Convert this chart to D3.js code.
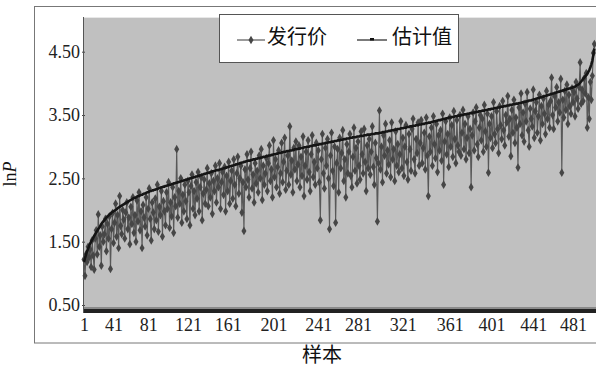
<!DOCTYPE html>
<html>
<head>
<meta charset="utf-8">
<script src="https://cdn.jsdelivr.net/npm/d3@7"></script>
<style>
  body { margin: 0; background: #fff; }
  text { font-family: "Liberation Serif", "DejaVu Serif", serif; }
  .cjk { font-family: "Noto Sans CJK SC", sans-serif; }
</style>
</head>
<body>
<svg id="chart" width="596" height="367"></svg>
<script>
// 发行价 (ln of issue price), one value per sample
const issuePrice = [
  1.22, 0.96, 1.30, 1.18, 1.42, 1.25, 1.38, 1.10, 1.52, 1.28,
  1.06, 1.55, 1.68, 1.30, 1.93, 1.42, 1.60, 1.12, 1.74, 1.50,
  1.62, 1.86, 1.35, 1.78, 1.55, 1.90, 1.07, 1.70, 1.95, 1.48,
  1.80, 2.10, 1.58, 1.92, 1.40, 2.22, 1.75, 1.62, 2.00, 1.85,
  1.55, 1.96, 2.12, 1.70, 1.88, 1.46, 2.05, 1.78, 2.20, 1.64,
  1.92, 1.50, 2.15, 1.82, 2.28, 1.68, 1.98, 1.40, 2.08, 1.88,
  1.74, 2.20, 1.60, 2.02, 2.34, 1.86, 1.52, 2.12, 1.96, 1.70,
  2.18, 1.84, 2.40, 1.66, 2.05, 1.92, 2.30, 1.58, 2.14, 1.98,
  1.76, 2.28, 2.02, 2.44, 1.72, 2.12, 1.90, 2.36, 1.64, 2.20,
  2.06, 2.96, 1.88, 2.30, 2.10, 2.50, 1.80, 2.24, 1.98, 2.40,
  2.14, 1.86, 2.46, 2.28, 1.76, 2.38, 2.56, 2.02, 2.30, 1.92,
  2.44, 2.18, 2.60, 1.98, 2.36, 2.52, 1.84, 2.26, 2.48, 2.10,
  2.32, 2.66, 2.06, 2.42, 2.20, 2.58, 1.94, 2.46, 2.30, 2.70,
  2.12, 2.50, 2.36, 2.74, 2.02, 2.44, 2.60, 2.24, 2.68, 1.98,
  2.54, 2.30, 2.76, 2.10, 2.46, 2.62, 2.18, 2.80, 2.40, 2.06,
  2.58, 2.84, 2.26, 2.50, 2.70, 1.96, 2.44, 1.67, 2.64, 2.36,
  2.88, 2.48, 2.20, 2.66, 2.92, 2.34, 2.56, 2.12, 2.74, 2.42,
  2.62, 2.28, 2.86, 2.50, 2.96, 2.16, 2.70, 2.40, 2.58, 2.82,
  2.30, 2.74, 3.02, 2.46, 2.64, 2.20, 3.10, 2.52, 2.80, 2.36,
  2.68, 2.94, 2.26, 2.58, 3.06, 2.44, 2.76, 3.14, 2.32, 2.62,
  2.86, 2.40, 3.32, 2.56, 2.78, 2.28, 2.98, 2.64, 3.08, 2.46,
  2.72, 3.02, 2.36, 2.84, 2.54, 3.16, 2.22, 2.70, 2.92, 2.48,
  3.10, 2.60, 2.30, 2.88, 3.18, 2.52, 2.76, 2.40, 3.06, 2.66,
  2.94, 2.44, 1.84, 2.80, 3.20, 2.58, 2.34, 2.98, 2.70, 3.12,
  2.50, 1.70, 2.86, 3.22, 2.62, 2.38, 3.00, 1.80, 2.74, 2.96,
  2.28, 3.14, 2.66, 2.90, 3.26, 2.46, 2.80, 2.20, 3.04, 2.58,
  2.92, 3.20, 2.54, 2.36, 2.84, 3.30, 2.62, 2.98, 2.42, 3.08,
  2.70, 2.48, 3.24, 2.88, 2.58, 3.28, 2.76, 2.30, 3.02, 2.66,
  3.12, 2.56, 2.92, 3.32, 2.68, 2.40, 3.06, 2.82, 1.82, 2.74,
  3.57, 2.64, 3.00, 2.44, 3.18, 2.86, 3.36, 2.58, 2.94, 2.72,
  3.10, 2.52, 3.38, 2.80, 2.96, 2.46, 3.24, 2.70, 3.04, 2.60,
  2.88, 3.40, 2.66, 3.14, 2.54, 3.00, 3.34, 2.76, 2.48, 3.20,
  2.96, 2.62, 3.28, 3.44, 2.80, 2.58, 3.12, 2.90, 3.38, 2.70,
  3.06, 3.42, 2.74, 2.98, 3.22, 2.64, 3.46, 2.86, 2.22, 3.16,
  2.92, 3.30, 2.70, 3.48, 3.04, 2.82, 3.36, 2.60, 3.18, 2.94,
  3.26, 2.78, 3.52, 2.40, 3.08, 3.40, 2.88, 3.20, 2.68, 3.46,
  3.00, 3.34, 2.84, 3.56, 3.12, 2.74, 3.42, 3.02, 2.92, 3.50,
  2.86, 3.22, 3.58, 2.96, 3.36, 2.80, 3.14, 3.48, 2.90, 3.28,
  2.36, 3.18, 3.54, 2.94, 3.40, 3.62, 3.04, 2.84, 3.30, 3.50,
  3.10, 3.44, 2.92, 3.66, 3.24, 3.00, 3.52, 2.59, 3.36, 3.14,
  3.48, 2.98, 3.70, 3.20, 3.06, 3.56, 3.28, 2.90, 3.64, 3.34,
  3.12, 3.72, 3.26, 3.02, 3.50, 3.38, 3.80, 3.16, 3.44, 2.85,
  3.58, 3.22, 3.74, 3.06, 3.46, 3.30, 2.67, 3.62, 3.36, 3.84,
  3.18, 3.54, 3.08, 3.68, 3.40, 3.86, 3.26, 3.00, 3.60, 3.44,
  3.32, 3.90, 3.14, 3.56, 3.70, 3.22, 3.48, 3.82, 3.10, 3.64,
  3.36, 3.76, 3.52, 3.20, 3.88, 3.44, 3.66, 3.30, 3.72, 4.09,
  3.50, 3.28, 3.80, 3.62, 3.94, 3.40, 3.70, 3.54, 4.07, 2.59,
  3.74, 3.46, 3.88, 3.58, 3.98, 3.36, 3.82, 3.64, 3.52, 3.92,
  3.70, 3.86, 3.48, 4.02, 3.76, 3.60, 3.94, 4.33, 3.68, 3.90,
  3.72, 4.08, 3.84, 4.16, 3.30, 3.78, 3.44, 4.02, 3.74, 4.12,
  4.48, 4.62
];

// 估计值 (fitted value), one value per sample
const estimate = [
  1.18, 1.24, 1.30, 1.35, 1.39, 1.43, 1.47, 1.50, 1.53, 1.56,
  1.59, 1.62, 1.65, 1.67, 1.70, 1.72, 1.75, 1.78, 1.80, 1.82,
  1.84, 1.86, 1.88, 1.90, 1.91, 1.93, 1.94, 1.96, 1.97, 1.98,
  1.99, 2.00, 2.01, 2.03, 2.04, 2.05, 2.06, 2.07, 2.08, 2.09,
  2.10, 2.11, 2.12, 2.13, 2.14, 2.15, 2.16, 2.17, 2.18, 2.19,
  2.19, 2.20, 2.21, 2.22, 2.22, 2.23, 2.24, 2.24, 2.25, 2.26,
  2.26, 2.27, 2.28, 2.28, 2.29, 2.30, 2.30, 2.31, 2.31, 2.32,
  2.32, 2.33, 2.33, 2.34, 2.35, 2.35, 2.36, 2.36, 2.37, 2.37,
  2.38, 2.38, 2.39, 2.39, 2.40, 2.40, 2.41, 2.41, 2.42, 2.42,
  2.43, 2.43, 2.44, 2.44, 2.45, 2.45, 2.46, 2.46, 2.47, 2.47,
  2.48, 2.48, 2.49, 2.49, 2.50, 2.50, 2.51, 2.51, 2.52, 2.52,
  2.53, 2.53, 2.54, 2.54, 2.55, 2.55, 2.56, 2.56, 2.57, 2.57,
  2.58, 2.58, 2.59, 2.59, 2.60, 2.60, 2.61, 2.61, 2.62, 2.62,
  2.63, 2.63, 2.63, 2.64, 2.64, 2.65, 2.65, 2.66, 2.66, 2.67,
  2.67, 2.68, 2.68, 2.69, 2.69, 2.70, 2.70, 2.71, 2.71, 2.72,
  2.72, 2.73, 2.73, 2.74, 2.74, 2.75, 2.75, 2.76, 2.76, 2.77,
  2.77, 2.78, 2.78, 2.78, 2.79, 2.79, 2.80, 2.80, 2.80, 2.81,
  2.81, 2.82, 2.82, 2.82, 2.83, 2.83, 2.84, 2.84, 2.84, 2.85,
  2.85, 2.86, 2.86, 2.86, 2.87, 2.87, 2.88, 2.88, 2.88, 2.89,
  2.89, 2.90, 2.90, 2.90, 2.91, 2.91, 2.92, 2.92, 2.92, 2.93,
  2.93, 2.93, 2.94, 2.94, 2.94, 2.95, 2.95, 2.96, 2.96, 2.96,
  2.97, 2.97, 2.97, 2.98, 2.98, 2.98, 2.99, 2.99, 2.99, 3.00,
  3.00, 3.00, 3.01, 3.01, 3.01, 3.02, 3.02, 3.02, 3.03, 3.03,
  3.03, 3.04, 3.04, 3.04, 3.05, 3.05, 3.05, 3.06, 3.06, 3.06,
  3.07, 3.07, 3.07, 3.08, 3.08, 3.08, 3.09, 3.09, 3.09, 3.10,
  3.10, 3.10, 3.11, 3.11, 3.11, 3.12, 3.12, 3.12, 3.13, 3.13,
  3.13, 3.14, 3.14, 3.14, 3.15, 3.15, 3.15, 3.15, 3.16, 3.16,
  3.16, 3.17, 3.17, 3.17, 3.17, 3.18, 3.18, 3.18, 3.19, 3.19,
  3.19, 3.19, 3.20, 3.20, 3.20, 3.20, 3.21, 3.21, 3.21, 3.21,
  3.22, 3.22, 3.22, 3.23, 3.23, 3.23, 3.24, 3.24, 3.24, 3.25,
  3.25, 3.25, 3.26, 3.26, 3.26, 3.27, 3.27, 3.27, 3.28, 3.28,
  3.28, 3.29, 3.29, 3.29, 3.30, 3.30, 3.30, 3.31, 3.31, 3.31,
  3.32, 3.32, 3.32, 3.33, 3.33, 3.33, 3.34, 3.34, 3.34, 3.35,
  3.35, 3.35, 3.36, 3.36, 3.36, 3.37, 3.37, 3.37, 3.38, 3.38,
  3.38, 3.39, 3.39, 3.40, 3.40, 3.40, 3.41, 3.41, 3.42, 3.42,
  3.42, 3.43, 3.43, 3.44, 3.44, 3.44, 3.45, 3.45, 3.46, 3.46,
  3.46, 3.47, 3.47, 3.47, 3.48, 3.48, 3.48, 3.49, 3.49, 3.49,
  3.50, 3.50, 3.50, 3.51, 3.51, 3.51, 3.52, 3.52, 3.52, 3.53,
  3.53, 3.53, 3.54, 3.54, 3.54, 3.55, 3.55, 3.55, 3.56, 3.56,
  3.56, 3.57, 3.57, 3.57, 3.58, 3.58, 3.58, 3.59, 3.59, 3.59,
  3.60, 3.60, 3.60, 3.61, 3.61, 3.61, 3.62, 3.62, 3.62, 3.63,
  3.63, 3.63, 3.64, 3.64, 3.64, 3.65, 3.65, 3.65, 3.66, 3.66,
  3.66, 3.67, 3.67, 3.67, 3.68, 3.68, 3.68, 3.69, 3.69, 3.69,
  3.70, 3.70, 3.71, 3.71, 3.71, 3.72, 3.72, 3.73, 3.73, 3.73,
  3.74, 3.74, 3.75, 3.75, 3.76, 3.76, 3.77, 3.77, 3.78, 3.78,
  3.79, 3.79, 3.80, 3.80, 3.81, 3.81, 3.82, 3.82, 3.83, 3.83,
  3.84, 3.84, 3.85, 3.85, 3.86, 3.86, 3.87, 3.87, 3.88, 3.88,
  3.89, 3.89, 3.90, 3.90, 3.91, 3.91, 3.92, 3.92, 3.93, 3.93,
  3.94, 3.94, 3.95, 3.96, 3.97, 3.98, 3.99, 4.01, 4.03, 4.05,
  4.07, 4.09, 4.11, 4.13, 4.15, 4.18, 4.21, 4.25, 4.30, 4.36,
  4.45, 4.55
];

const seriesNames = ["发行价", "估计值"];
const yTicks = [0.5, 1.5, 2.5, 3.5, 4.5];
const xTickLabels = ["1", "41", "81", "121", "161", "201", "241", "281", "321", "361", "401", "441", "481"];
// where each label sits along the sample axis in the original figure
const xTickSlots = [1, 30, 64, 103, 142, 187, 231, 270, 314, 360, 401, 442, 481];

const svg = d3.select('#chart');

const plot = { left: 83, right: 596, top: 17, bottom: 313 };

const x = d3.scaleLinear().domain([1, 481]).range([84, 573]);
const y = d3.scaleLinear().domain([0.5, 4.5]).range([305, 51.7]);

// outer frame
svg.append('rect')
  .attr('x', 34.5).attr('y', 6.5)
  .attr('width', 600).attr('height', 336.5)
  .attr('fill', '#fff')
  .attr('stroke', '#777')
  .attr('stroke-width', 1);

// plot background
svg.append('rect')
  .attr('x', plot.left).attr('y', plot.top)
  .attr('width', plot.right - plot.left).attr('height', plot.bottom - plot.top)
  .attr('fill', '#c0c0c0');

svg.append('line')
  .attr('x1', plot.left).attr('x2', plot.right)
  .attr('y1', plot.top + 0.5).attr('y2', plot.top + 0.5)
  .attr('stroke', '#e8e8e8');

// bottom band
svg.append('rect')
  .attr('x', plot.left).attr('y', plot.bottom - 6)
  .attr('width', plot.right - plot.left).attr('height', 2)
  .attr('fill', '#8a8a8a');
svg.append('rect')
  .attr('x', plot.left).attr('y', plot.bottom - 4)
  .attr('width', plot.right - plot.left).attr('height', 4)
  .attr('fill', '#222');

// y axis
const yAxis = d3.axisLeft(y)
  .tickValues(yTicks)
  .tickFormat(d3.format('.2f'))
  .tickSize(3)
  .tickPadding(2);

const yG = svg.append('g')
  .attr('transform', `translate(${plot.left + 2},0)`)
  .call(yAxis);
yG.select('.domain').remove();
yG.selectAll('.tick line').attr('stroke', '#444');
yG.selectAll('.tick text')
  .attr('font-size', 18)
  .attr('font-family', '"Liberation Serif", serif')
  .attr('fill', '#222');

svg.append('line')
  .attr('x1', plot.left + 0.5).attr('x2', plot.left + 0.5)
  .attr('y1', plot.top).attr('y2', plot.bottom)
  .attr('stroke', '#555')
  .attr('stroke-width', 1);

// x axis labels
const xG = svg.append('g')
  .attr('transform', `translate(0,${plot.bottom})`)
  .call(d3.axisBottom(x)
    .tickValues(xTickSlots)
    .tickFormat((d, i) => xTickLabels[i])
    .tickSize(0)
    .tickPadding(5));
xG.select('.domain').remove();
xG.selectAll('.tick text')
  .attr('font-size', 18)
  .attr('font-family', '"Liberation Serif", serif')
  .attr('fill', '#222');

// issue price series
const sampleLine = d3.line()
  .x((d, i) => x(i + 1))
  .y(d => y(d));

svg.append('path')
  .datum(issuePrice)
  .attr('fill', 'none')
  .attr('stroke', '#585858')
  .attr('stroke-width', 1.1)
  .attr('d', sampleLine);

const diamond = d3.symbol().type(d3.symbolDiamond).size(22);

svg.append('g')
  .selectAll('path')
  .data(issuePrice)
  .join('path')
  .attr('transform', (d, i) => `translate(${x(i + 1)},${y(d)})`)
  .attr('d', diamond)
  .attr('fill', '#464646');

// estimate series
svg.append('path')
  .datum(estimate)
  .attr('fill', 'none')
  .attr('stroke', '#151515')
  .attr('stroke-width', 2.6)
  .attr('stroke-linejoin', 'round')
  .attr('d', sampleLine);

// legend
const legend = svg.append('g');
legend.append('rect')
  .attr('x', 219.5).attr('y', 14.5)
  .attr('width', 239).attr('height', 48)
  .attr('fill', '#fff')
  .attr('stroke', '#555')
  .attr('stroke-width', 1);

legend.append('line')
  .attr('x1', 237).attr('x2', 265).attr('y1', 40).attr('y2', 40)
  .attr('stroke', '#585858').attr('stroke-width', 1.2);
legend.append('path')
  .attr('transform', 'translate(251,40)')
  .attr('d', diamond)
  .attr('fill', '#464646');
legend.append('text')
  .attr('class', 'cjk')
  .attr('x', 267).attr('y', 44)
  .attr('font-size', 20)
  .attr('fill', '#111')
  .text(seriesNames[0]);

legend.append('line')
  .attr('x1', 357).attr('x2', 387).attr('y1', 40).attr('y2', 40)
  .attr('stroke', '#222').attr('stroke-width', 1.2);
legend.append('rect')
  .attr('x', 370).attr('y', 38).attr('width', 4).attr('height', 2.5)
  .attr('fill', '#111');
legend.append('text')
  .attr('class', 'cjk')
  .attr('x', 392).attr('y', 44)
  .attr('font-size', 20)
  .attr('fill', '#111')
  .text(seriesNames[1]);

// axis titles
svg.append('text')
  .attr('class', 'cjk')
  .attr('x', 322).attr('y', 362)
  .attr('text-anchor', 'middle')
  .attr('font-size', 20)
  .attr('fill', '#111')
  .text('样本');

const yTitle = svg.append('text')
  .attr('transform', 'translate(16,174) rotate(-90)')
  .attr('text-anchor', 'middle')
  .attr('font-size', 18)
  .attr('font-family', '"Liberation Serif", serif')
  .attr('fill', '#111');
yTitle.append('tspan').text('ln');
yTitle.append('tspan').attr('font-style', 'italic').text('P');
</script>
</body>
</html>
